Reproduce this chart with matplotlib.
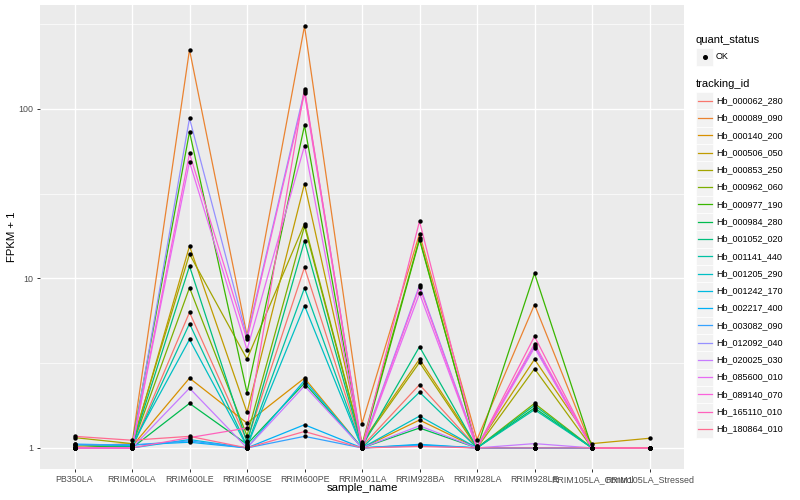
import matplotlib
matplotlib.use("Agg")
import numpy as np
import matplotlib.pyplot as plt
from matplotlib.lines import Line2D
from matplotlib.patches import Rectangle

plt.rcParams["font.family"] = ["Liberation Sans", "DejaVu Sans"]

# 样本名
samples = ["PB350LA", "RRIM600LA", "RRIM600LE", "RRIM600SE", "RRIM600PE", "RRIM901LA",
           "RRIM928BA", "RRIM928LA", "RRIM928LE", "RRIM105LA_Control", "RRIM105LA_Stressed"]

tracking_ids = ["Hb_000062_280", "Hb_000089_090", "Hb_000140_200", "Hb_000506_050",
                "Hb_000853_250", "Hb_000962_060", "Hb_000977_190", "Hb_000984_280",
                "Hb_001052_020", "Hb_001141_440", "Hb_001205_290", "Hb_001242_170",
                "Hb_002217_400", "Hb_003082_090", "Hb_012092_040", "Hb_020025_030",
                "Hb_085600_010", "Hb_089140_070", "Hb_165110_010", "Hb_180864_010"]

# ggplot 默认色盘 (20 色)
colors = ["#F8766D", "#EA8331", "#D89000", "#C09B00", "#A3A500", "#7CAE00", "#39B600",
          "#00BB4E", "#00BF7D", "#00C1A3", "#00BFC4", "#00BAE0", "#00B0F6", "#35A2FF",
          "#9590FF", "#C77CFF", "#E76BF3", "#FA62DB", "#FF62BC", "#FF6C91"]

# FPKM + 1，每行一个基因，列顺序同 samples
fpkm1 = [
    [1.00, 1.00, 6.30, 1.10, 11.6, 1.02, 2.36, 1.00, 1.00, 1.00, 1.00],   # 000062_280
    [1.02, 1.06, 223., 4.60, 307., 1.39, 18.3, 1.12, 7.00, 1.00, 1.00],   # 000089_090
    [1.00, 1.02, 2.58, 1.40, 2.58, 1.00, 1.46, 1.00, 1.00, 1.00, 1.00],   # 000140_200
    [1.00, 1.02, 15.5, 1.62, 36.1, 1.08, 3.34, 1.02, 3.33, 1.06, 1.14],   # 000506_050
    [1.15, 1.06, 13.9, 3.34, 21.0, 1.06, 3.19, 1.00, 2.93, 1.00, 1.00],   # 000853_250
    [1.00, 1.02, 8.80, 1.18, 20.3, 1.05, 17.2, 1.00, 1.83, 1.00, 1.00],   # 000962_060
    [1.00, 1.04, 73.1, 2.12, 79.8, 1.00, 16.9, 1.00, 10.7, 1.00, 1.00],   # 000977_190
    [1.00, 1.00, 1.83, 1.05, 2.41, 1.00, 1.31, 1.00, 1.72, 1.00, 1.00],   # 000984_280
    [1.00, 1.02, 11.8, 1.08, 16.6, 1.02, 3.95, 1.00, 1.78, 1.00, 1.00],   # 001052_020
    [1.00, 1.00, 5.40, 1.03, 8.77, 1.00, 2.13, 1.00, 1.68, 1.00, 1.00],   # 001141_440
    [1.04, 1.04, 4.36, 1.02, 6.90, 1.00, 1.54, 1.00, 1.00, 1.00, 1.00],   # 001205_290
    [1.00, 1.00, 1.12, 1.00, 2.50, 1.00, 1.04, 1.00, 1.00, 1.00, 1.00],   # 001242_170
    [1.05, 1.04, 1.08, 1.00, 1.37, 1.00, 1.05, 1.00, 1.00, 1.00, 1.00],   # 002217_400
    [1.05, 1.04, 1.10, 1.00, 1.17, 1.00, 1.03, 1.00, 1.00, 1.00, 1.00],   # 003082_090
    [1.00, 1.00, 87.8, 4.50, 128., 1.02, 9.10, 1.02, 3.98, 1.00, 1.00],   # 012092_040
    [1.00, 1.00, 2.25, 1.00, 2.32, 1.00, 1.35, 1.00, 1.06, 1.00, 1.00],   # 020025_030
    [1.00, 1.00, 48.6, 3.79, 60.4, 1.00, 8.15, 1.00, 3.90, 1.00, 1.00],   # 085600_010
    [1.00, 1.00, 54.5, 4.36, 123., 1.00, 8.89, 1.00, 4.11, 1.00, 1.00],   # 089140_070
    [1.00, 1.00, 1.15, 1.31, 131., 1.00, 21.7, 1.00, 4.54, 1.00, 1.00],   # 165110_010
    [1.17, 1.11, 1.17, 1.00, 1.25, 1.00, 1.02, 1.00, 1.00, 1.00, 1.00],   # 180864_010
]

W, H = 800, 500
fig = plt.figure(figsize=(W / 100, H / 100), dpi=100)
fig.patch.set_facecolor("white")
ax = fig.add_axes([40 / W, 1 - 469 / H, (684 - 40) / W, (469 - 5) / H])
ax.set_facecolor("#EBEBEB")

x = np.arange(len(samples))
for vals, col in zip(fpkm1, colors):
    ax.plot(x, vals, color=col, lw=0.9, zorder=2)
for vals in fpkm1:
    ax.scatter(x, vals, s=10, color="black", zorder=3, linewidths=0)

ax.set_yscale("log")
allv = np.log10(np.array(fpkm1))
lo, hi = allv.min(), allv.max()
pad = (hi - lo) * 0.05
ax.set_ylim(10 ** (lo - pad), 10 ** (hi + pad))
ax.set_xlim(-0.6, len(samples) - 0.4)

ax.set_yticks([1, 10, 100])
ax.set_yticklabels(["1", "10", "100"])
ax.set_yticks([10 ** 0.5, 10 ** 1.5, 10 ** 2.5], minor=True)
ax.yaxis.set_minor_formatter(plt.NullFormatter())
ax.set_xticks(x)
ax.set_xticklabels(samples)

ax.grid(True, which="major", color="white", lw=1.0, zorder=0)
ax.grid(True, which="minor", axis="y", color="white", lw=0.5, zorder=0)
ax.set_axisbelow(True)
for s in ax.spines.values():
    s.set_visible(False)
ax.tick_params(which="major", length=2.5, width=0.7, color="#333333",
               labelsize=6.4, labelcolor="#4D4D4D", pad=2)
ax.tick_params(which="minor", length=0)

ax.set_xlabel("sample_name", fontsize=8.2)
ax.set_ylabel("FPKM + 1", fontsize=8.2)
ax.xaxis.set_label_coords(0.5, -(488 - 469) / 464, transform=ax.transAxes)
ax.yaxis.set_label_coords((12 - 40) / 644, 0.5, transform=ax.transAxes)
ax.xaxis.label.set_va("center")
ax.yaxis.label.set_va("center")


def fx(px):
    return px / W


def fy(py):
    return 1 - py / H


# 图例: quant_status
fig.text(fx(696), fy(40), "quant_status", fontsize=8, va="center", ha="left")
fig.patches.append(Rectangle((fx(696), fy(65.5)), 17.3 / W, 17.3 / H, transform=fig.transFigure,
                             facecolor="#F2F2F2", edgecolor="white", lw=0.5))
fig.add_artist(Line2D([fx(704.6)], [fy(56.8)], marker="o", markersize=2.6, color="black",
                      transform=fig.transFigure, linestyle="none"))
fig.text(fx(716), fy(56.8), "OK", fontsize=6.5, va="center", ha="left")

# 图例: tracking_id
fig.text(fx(696), fy(84), "tracking_id", fontsize=8, va="center", ha="left")
step = 17.28
for i, (name, col) in enumerate(zip(tracking_ids, colors)):
    yc = 100.7 + i * step
    fig.patches.append(Rectangle((fx(696), fy(yc + step / 2)), step / W, step / H,
                                 transform=fig.transFigure, facecolor="#F2F2F2",
                                 edgecolor="white", lw=0.5))
    fig.add_artist(Line2D([fx(698), fx(711.5)], [fy(yc), fy(yc)], color=col, lw=0.9,
                          transform=fig.transFigure))
    fig.text(fx(716), fy(yc), name, fontsize=6.5, va="center", ha="left")

plt.savefig("out.png", dpi=100)
plt.close("all")
